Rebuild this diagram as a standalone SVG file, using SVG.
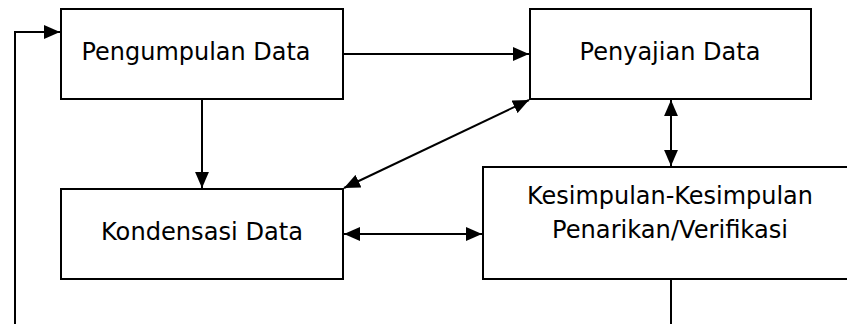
<svg xmlns="http://www.w3.org/2000/svg" width="847" height="324" viewBox="0 0 847 324">
<style>
.box{fill:#fff;stroke:#000;stroke-width:2}
.lbl{font-family:"DejaVu Sans","Liberation Sans",sans-serif;font-size:25px;fill:#000;text-anchor:middle}
.con{fill:none;stroke:#000;stroke-width:2}
</style>
<defs>
<marker id="ah" markerUnits="userSpaceOnUse" markerWidth="16" markerHeight="14" viewBox="0 0 15 13" refX="15" refY="6.5" orient="auto-start-reverse">
<path d="M0,0 L15,6.5 L0,13 z" fill="#000"/>
</marker>
</defs>
<g id="connectors">
<path class="con" d="M15,324 V32 H60" marker-end="url(#ah)"/>
<path class="con" d="M343,54 H529" marker-end="url(#ah)"/>
<path class="con" d="M202,99 V188" marker-end="url(#ah)"/>
<path class="con" d="M529,100 L344,188" marker-start="url(#ah)" marker-end="url(#ah)"/>
<path class="con" d="M671,100 V166" marker-start="url(#ah)" marker-end="url(#ah)"/>
<path class="con" d="M344,234 H482" marker-start="url(#ah)" marker-end="url(#ah)"/>
<path class="con" d="M671,279 V324"/>
</g>
<g id="pengumpulan">
<rect class="box" x="61" y="9" width="282" height="90"/>
<text class="lbl" x="196" y="60" textLength="229" lengthAdjust="spacingAndGlyphs">Pengumpulan Data</text>
</g>
<g id="penyajian">
<rect class="box" x="530" y="9" width="281" height="90"/>
<text class="lbl" x="670" y="60" textLength="181" lengthAdjust="spacingAndGlyphs">Penyajian Data</text>
</g>
<g id="kondensasi">
<rect class="box" x="61" y="189" width="282" height="90"/>
<text class="lbl" x="202" y="240" textLength="202" lengthAdjust="spacingAndGlyphs">Kondensasi Data</text>
</g>
<g id="kesimpulan">
<rect class="box" x="483" y="167" width="380" height="112"/>
<text class="lbl" x="670" y="204" textLength="286" lengthAdjust="spacingAndGlyphs">Kesimpulan-Kesimpulan</text>
<text class="lbl" x="670" y="238" textLength="236" lengthAdjust="spacingAndGlyphs">Penarikan/Verifikasi</text>
</g>
</svg>
